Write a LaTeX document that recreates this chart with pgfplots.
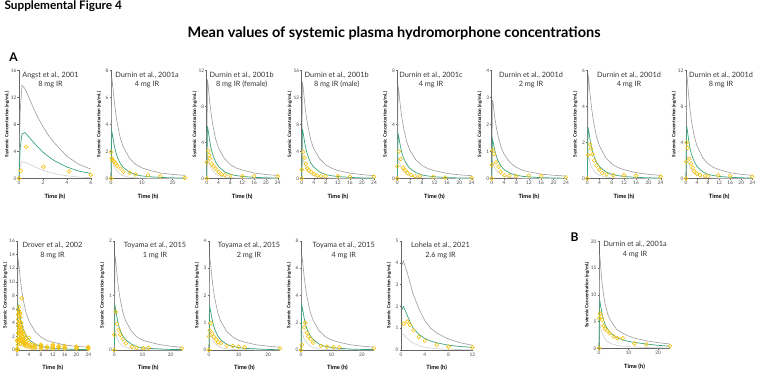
\documentclass[border=0pt]{standalone}
\usepackage{pgfplots}
\pgfplotsset{compat=1.18}
\usepackage{fontspec}
\setmainfont{Lato}
\definecolor{upc}{HTML}{9C9C9C}
\definecolor{loc}{HTML}{CFCFCF}
\definecolor{grc}{HTML}{3BA57A}
\definecolor{yc}{HTML}{F4C20D}
\pgfplotsset{
  panel/.style={
    scale only axis, anchor=south west, clip=false,
    axis lines=left, axis line style={-, black!60, line width=0.45pt},
    tick style={black!60, line width=0.35pt}, major tick length=1.5pt, tick align=outside,
    ticklabel style={font=\fontsize{4.8}{5}\selectfont, text=black!70},
    yticklabel style={inner sep=0.8pt},
    xticklabel style={inner sep=1.2pt},
    /pgf/number format/assume math mode=true,
    ymin=0, xmin=0,
    xlabel={Time (h)}, ylabel={Systemic Concentration (ng/mL)},
    every axis x label/.style={at={([yshift=-18pt]axis description cs:0.5,0)}, anchor=center, font=\bfseries\fontsize{5.8}{6}\selectfont},
    every axis y label/.style={at={([xshift=-12pt]axis description cs:0,0.5)}, rotate=90, anchor=center, font=\bfseries\fontsize{4.6}{5}\selectfont},
  },
  up/.style={upc, line width=0.6pt, no marks},
  lo/.style={loc, line width=0.6pt, no marks},
  me/.style={grc, line width=0.7pt, no marks},
  ob/.style={only marks, mark=o, mark size=1.9pt, draw=yc, mark options={line width=0.6pt}},
}
\newcommand{\ptitle}[4]{%
  \node[anchor=mid, font=\fontsize{7.3}{8}\selectfont, text=black!80] at (#1pt,#2pt) {#3};
  \node[anchor=mid, font=\fontsize{7.3}{8}\selectfont, text=black!80] at (#1pt,#2pt-9.5pt) {#4};}
\begin{document}
\begin{tikzpicture}
\useasboundingbox (0,0) rectangle (757pt,371pt);
\node[anchor=west, font=\bfseries\fontsize{11.8}{13}\selectfont] at (1pt,365pt) {Supplemental Figure 4};
\node[anchor=center, font=\bfseries\fontsize{14.5}{16}\selectfont] at (394pt,338pt) {Mean values of systemic plasma hydromorphone concentrations};
\node[anchor=center, font=\bfseries\fontsize{12}{13}\selectfont] at (13.5pt,313.5pt) {A};
\node[anchor=center, font=\bfseries\fontsize{12}{13}\selectfont] at (574.5pt,134pt) {B};

% ---------- Angst 2001
\begin{axis}[panel, at={(19pt,192.5pt)}, width=71.7pt, height=108pt, xmax=6, ymax=16, xtick={0,2,4,6}, ytick={0,4,8,12,16}]
\addplot[lo] coordinates {(0,0)(0.1,1.8)(0.25,2.5)(0.5,2.4)(1,2.0)(1.5,1.6)(2,1.2)(2.5,0.95)(3,0.7)(4,0.4)(5,0.22)(6,0.12)};
\addplot[up] coordinates {(0,0)(0.1,10)(0.25,13.8)(0.5,13.3)(1,11.3)(1.5,9.3)(2,7.7)(2.5,6.3)(3,5.2)(4,3.3)(5,2.1)(6,1.4)};
\addplot[me] coordinates {(0,0)(0.1,4.5)(0.25,6.6)(0.5,6.8)(1,5.8)(1.5,4.8)(2,3.9)(2.5,3.2)(3,2.6)(4,1.7)(5,1.1)(6,0.75)};
\addplot[ob] coordinates {(0,0)(0.15,1.15)(0.6,4.7)(2.05,1.75)(4.2,1.05)(6,0.55)};
\end{axis}
\ptitle{50.5}{296.5}{Angst et al., 2001}{8 mg IR}

% ---------- Durnin 2001a
\begin{axis}[panel, at={(111pt,192.5pt)}, width=74pt, height=108pt, xmax=24, ymax=8, xtick={0,10,20}, ytick={0,2,4,6,8}]
\addplot[lo] coordinates {(0,0)(0.25,1.5)(0.5,1.32)(1,0.93)(1.5,0.69)(2,0.53)(3,0.32)(4,0.2)(6,0.09)(8,0.05)(10,0.03)(12,0.02)(16,0.01)(20,0)(24,0)};
\addplot[up] coordinates {(0,0)(0.25,7.5)(0.5,7.05)(1,5.85)(1.5,4.88)(2,4.13)(3,3.0)(4,2.33)(6,1.5)(8,1.05)(10,0.79)(12,0.64)(16,0.41)(20,0.3)(24,0.23)};
\addplot[me] coordinates {(0,0)(0.25,3.5)(0.5,3.22)(1,2.52)(1.5,2.0)(2,1.61)(3,1.12)(4,0.81)(6,0.46)(8,0.28)(10,0.19)(12,0.14)(16,0.08)(20,0.05)(24,0.03)};
\addplot[ob] coordinates {(0,0)(0,1.95)(0.25,1.5)(0.5,1.35)(1,1.25)(1.5,1.1)(2,0.95)(3,0.75)(4,0.5)(6,0.42)(8,0.3)(12,0.25)(16,0.17)(24,0.05)};
\end{axis}
\ptitle{147}{296.5}{Durnin et al., 2001a}{4 mg IR}

% ---------- Durnin 2001b female
\begin{axis}[panel, at={(206.7pt,192.5pt)}, width=71pt, height=108pt, xmax=24, ymax=12, xtick={0,4,...,24}, ytick={0,4,8,12}]
\addplot[lo] coordinates {(0,0)(0.25,2.5)(0.5,2.2)(1,1.55)(1.5,1.15)(2,0.88)(3,0.53)(4,0.33)(6,0.15)(8,0.08)(10,0.05)(12,0.03)(16,0.02)(20,0.01)(24,0)};
\addplot[up] coordinates {(0,0)(0.25,11)(0.5,10.3)(1,8.6)(1.5,7.2)(2,6.05)(3,4.4)(4,3.4)(6,2.2)(8,1.54)(10,1.16)(12,0.94)(16,0.61)(20,0.44)(24,0.33)};
\addplot[me] coordinates {(0,0)(0.25,5.8)(0.5,5.34)(1,4.18)(1.5,3.31)(2,2.67)(3,1.86)(4,1.33)(6,0.75)(8,0.46)(10,0.32)(12,0.23)(16,0.13)(20,0.08)(24,0.05)};
\addplot[ob] coordinates {(0,0)(0,1.8)(0.5,3.1)(0.8,2.6)(1.1,2.2)(1.7,1.65)(2.3,1.35)(3,1.1)(4,0.75)(5,0.45)(6.2,0.4)(8,0.3)(12,0.25)(16,0.27)(24,0.25)};
\end{axis}
\ptitle{241.7}{296.5}{Durnin et al., 2001b}{8 mg IR (female)}

% ---------- Durnin 2001b male
\begin{axis}[panel, at={(301.7pt,192.5pt)}, width=72.3pt, height=108pt, xmax=24, ymax=16, xtick={0,4,...,24}, ytick={0,4,8,12,16}]
\addplot[lo] coordinates {(0,0)(0.25,3.2)(0.5,2.8)(1,2.0)(1.5,1.5)(2,1.1)(3,0.67)(4,0.42)(6,0.19)(8,0.1)(10,0.06)(12,0.04)(16,0.02)(20,0.01)(24,0.01)};
\addplot[up] coordinates {(0,0)(0.25,14.3)(0.5,13.4)(1,11.2)(1.5,9.3)(2,7.9)(3,5.7)(4,4.4)(6,2.9)(8,2.0)(10,1.5)(12,1.2)(16,0.79)(20,0.57)(24,0.43)};
\addplot[me] coordinates {(0,0)(0.25,7.3)(0.5,6.7)(1,5.3)(1.5,4.2)(2,3.4)(3,2.3)(4,1.7)(6,0.95)(8,0.58)(10,0.4)(12,0.29)(16,0.16)(20,0.09)(24,0.06)};
\addplot[ob] coordinates {(0,0)(0,1.3)(0.5,3.9)(0.9,3.1)(1.4,2.2)(1.9,1.5)(2.4,1.2)(3.1,1.0)(4.1,0.65)(5.2,0.4)(6.4,0.35)(7.9,0.35)(12,0.35)(16,0.25)(24,0.25)};
\end{axis}
\ptitle{336.7}{296.5}{Durnin et al., 2001b}{8 mg IR (male)}

% ---------- Durnin 2001c
\begin{axis}[panel, at={(397.3pt,192.5pt)}, width=74.4pt, height=108pt, xmax=24, ymax=8, xtick={0,4,...,24}, ytick={0,4,8}]
\addplot[lo] coordinates {(0,0)(0.25,1.5)(0.5,1.32)(1,0.93)(1.5,0.69)(2,0.53)(3,0.32)(4,0.2)(6,0.09)(8,0.05)(10,0.03)(12,0.02)(16,0.01)(20,0)(24,0)};
\addplot[up] coordinates {(0,0)(0.25,6.85)(0.5,6.44)(1,5.34)(1.5,4.45)(2,3.77)(3,2.74)(4,2.12)(6,1.37)(8,0.96)(10,0.72)(12,0.58)(16,0.38)(20,0.27)(24,0.21)};
\addplot[me] coordinates {(0,0)(0.25,3.3)(0.5,3.04)(1,2.38)(1.5,1.88)(2,1.52)(3,1.06)(4,0.76)(6,0.43)(8,0.26)(10,0.18)(12,0.13)(16,0.07)(20,0.04)(24,0.03)};
\addplot[ob] coordinates {(0,0)(0,0.9)(0.5,2.0)(1.1,1.45)(1.9,0.8)(2.6,0.6)(3.3,0.4)(4.4,0.25)(5.7,0.17)(7.3,0.17)(11.6,0.12)(15.4,0.07)(24,0.05)};
\end{axis}
\ptitle{431}{296.5}{Durnin et al., 2001c}{4 mg IR}

% ---------- Durnin 2001d 2 mg
\begin{axis}[panel, at={(491.7pt,192.5pt)}, width=74.3pt, height=108pt, xmax=24, ymax=4, xtick={0,4,...,24}, ytick={0,1,2,3,4}]
\addplot[lo] coordinates {(0,0)(0.25,0.65)(0.5,0.57)(1,0.4)(1.5,0.3)(2,0.23)(3,0.14)(4,0.08)(6,0.04)(8,0.02)(10,0.01)(12,0.01)(16,0)(20,0)(24,0)};
\addplot[up] coordinates {(0,0)(0.25,2.9)(0.5,2.73)(1,2.26)(1.5,1.89)(2,1.6)(3,1.16)(4,0.9)(6,0.58)(8,0.41)(10,0.3)(12,0.25)(16,0.16)(20,0.12)(24,0.09)};
\addplot[me] coordinates {(0,0)(0.25,1.45)(0.5,1.33)(1,1.04)(1.5,0.83)(2,0.67)(3,0.46)(4,0.33)(6,0.19)(8,0.12)(10,0.08)(12,0.06)(16,0.03)(20,0.02)(24,0.01)};
\addplot[ob] coordinates {(0,0)(0,0.5)(0.3,1.05)(0.75,0.9)(1.4,0.6)(2.2,0.43)(2.9,0.25)(4.1,0.12)(5.7,0.1)(7.9,0.09)(12,0.11)(16,0.09)(24,0.04)};
\end{axis}
\ptitle{531}{296.5}{Durnin et al., 2001d}{2 mg IR}

% ---------- Durnin 2001d 4 mg
\begin{axis}[panel, at={(587.3pt,192.5pt)}, width=73.4pt, height=108pt, xmax=24, ymax=6, xtick={0,4,...,24}, ytick={0,2,4,6}]
\addplot[lo] coordinates {(0,0)(0.25,1.3)(0.5,1.14)(1,0.81)(1.5,0.6)(2,0.46)(3,0.27)(4,0.17)(6,0.08)(8,0.04)(10,0.02)(12,0.02)(16,0.01)(20,0)(24,0)};
\addplot[up] coordinates {(0,0)(0.25,5.8)(0.5,5.45)(1,4.52)(1.5,3.77)(2,3.19)(3,2.32)(4,1.8)(6,1.16)(8,0.81)(10,0.61)(12,0.49)(16,0.32)(20,0.23)(24,0.17)};
\addplot[me] coordinates {(0,0)(0.25,2.85)(0.5,2.62)(1,2.05)(1.5,1.62)(2,1.31)(3,0.91)(4,0.66)(6,0.37)(8,0.23)(10,0.16)(12,0.11)(16,0.06)(20,0.04)(24,0.02)};
\addplot[ob] coordinates {(0,0)(0.3,1.3)(0.9,1.9)(1.2,1.65)(1.7,1.35)(2.3,1.0)(3,0.73)(3.9,0.5)(4.9,0.3)(6.3,0.22)(8.5,0.18)(12,0.18)(16,0.15)(24,0.1)};
\end{axis}
\ptitle{629}{296.5}{Durnin et al., 2001d}{4 mg IR}

% ---------- Durnin 2001d 8 mg
\begin{axis}[panel, at={(686pt,192.5pt)}, width=66.3pt, height=108pt, xmax=24, ymax=12, xtick={0,4,...,24}, ytick={0,4,8,12}]
\addplot[lo] coordinates {(0,0)(0.25,2.6)(0.5,2.29)(1,1.61)(1.5,1.2)(2,0.91)(3,0.55)(4,0.34)(6,0.16)(8,0.08)(10,0.05)(12,0.03)(16,0.02)(20,0.01)(24,0.01)};
\addplot[up] coordinates {(0,0)(0.25,11.6)(0.5,10.9)(1,9.05)(1.5,7.54)(2,6.38)(3,4.64)(4,3.6)(6,2.32)(8,1.62)(10,1.22)(12,0.99)(16,0.64)(20,0.46)(24,0.35)};
\addplot[me] coordinates {(0,0)(0.25,5.8)(0.5,5.34)(1,4.18)(1.5,3.31)(2,2.67)(3,1.86)(4,1.33)(6,0.75)(8,0.46)(10,0.32)(12,0.23)(16,0.13)(20,0.08)(24,0.05)};
\addplot[ob] coordinates {(0,0)(0,1.85)(0.25,4.0)(0.6,3.4)(1.2,2.2)(1.8,1.65)(2.4,1.2)(3,0.8)(3.9,0.55)(5.1,0.37)(6.9,0.3)(8,0.25)(11.7,0.37)(16,0.3)(24,0.2)};
\end{axis}
\ptitle{721}{296.5}{Durnin et al., 2001d}{8 mg IR}

% ---------- Drover 2002
\begin{axis}[panel, at={(17.3pt,21pt)}, width=71pt, height=109pt, xmax=24, ymax=16, xtick={0,4,...,24}, ytick={0,2,...,16}]
\addplot[lo] coordinates {(0,0)(0.25,3.0)(0.5,2.64)(1,1.86)(1.5,1.38)(2,1.05)(3,0.63)(4,0.39)(6,0.18)(8,0.09)(10,0.05)(12,0.04)(16,0.02)(20,0.01)(24,0.01)};
\addplot[up] coordinates {(0,0)(0.25,13.5)(0.5,12.7)(1,10.5)(1.5,8.8)(2,7.4)(3,5.4)(4,4.2)(6,2.7)(8,1.9)(10,1.4)(12,1.15)(16,0.74)(20,0.54)(24,0.41)};
\addplot[me] coordinates {(0,0)(0.25,6.6)(0.5,6.07)(1,4.75)(1.5,3.76)(2,3.04)(3,2.11)(4,1.52)(6,0.86)(8,0.53)(10,0.36)(12,0.26)(16,0.15)(20,0.09)(24,0.05)};
\addplot[ob] coordinates {(0,0)(0,0.2)(0,1.3)(0,1.5)(0,0.1)
(0.25,1.5)(0.25,2.5)(0.25,3.5)(0.25,4.5)(0.25,5.2)(0.25,0.8)
(0.5,2.0)(0.5,3.0)(0.5,4.0)(0.5,5.0)(0.5,5.8)(0.5,6.3)(0.5,1.2)
(0.75,2.5)(0.75,3.3)(0.75,4.2)(0.75,5.5)(0.75,1.6)
(1,1.8)(1,2.8)(1,3.6)(1,4.8)(1,5.3)(1,0.9)
(1.25,1.5)(1.25,2.2)(1.25,3.0)(1.25,4.0)
(1.5,1.2)(1.5,1.9)(1.5,2.6)(1.5,3.4)(1.5,7.6)
(2,0.8)(2,1.4)(2,2.0)(2,2.7)(2,1.1)
(2.5,0.7)(2.5,1.0)(2.5,1.5)(2.5,2.2)
(3,0.5)(3,0.9)(3,1.2)(3,1.6)
(4,0.4)(4,0.7)(4,1.0)(4,1.8)
(5,0.3)(5,0.5)(5,0.8)
(6,0.3)(6,0.5)(6,0.7)
(8,0.2)(8,0.4)(8,0.6)(8,0.8)
(10,0.3)(10,0.5)
(12,0.2)(12,0.4)(12,0.6)(12,0.8)
(14,0.3)(14,0.5)(14,0.6)
(16,0.2)(16,0.4)(16,0.6)
(20,0.2)(20,0.35)(20,0.5)
(24,0.15)(24,0.3)(24,0.45)};
\end{axis}
\ptitle{52.5}{126}{Drover et al., 2002}{8 mg IR}

% ---------- Toyama 1 mg
\begin{axis}[panel, at={(114.3pt,21pt)}, width=67.7pt, height=109pt, xmax=24, ymax=2, xtick={0,10,20}, ytick={0,1,2}]
\addplot[lo] coordinates {(0,0)(0.25,0.35)(0.5,0.31)(1,0.22)(1.5,0.16)(2,0.12)(3,0.07)(4,0.05)(6,0.02)(8,0.01)(10,0.01)(12,0)(16,0)(20,0)(24,0)};
\addplot[up] coordinates {(0,0)(0.25,1.74)(0.5,1.64)(1,1.36)(1.5,1.13)(2,0.96)(3,0.7)(4,0.54)(6,0.35)(8,0.24)(10,0.18)(12,0.15)(16,0.1)(20,0.07)(24,0.05)};
\addplot[me] coordinates {(0,0)(0.25,0.81)(0.5,0.75)(1,0.58)(1.5,0.46)(2,0.37)(3,0.26)(4,0.19)(6,0.11)(8,0.06)(10,0.04)(12,0.03)(16,0.02)(20,0.01)(24,0.01)};
\addplot[ob] coordinates {(0,0)(0,0.28)(0.5,0.7)(0.95,0.48)(1.5,0.37)(2.1,0.28)(3,0.2)(4.1,0.12)(6.2,0.06)(7.9,0.04)(10.3,0.03)(12.1,0.04)(24,0.03)};
\end{axis}
\ptitle{155}{126}{Toyama et al., 2015}{1 mg IR}

% ---------- Toyama 2 mg
\begin{axis}[panel, at={(209pt,21pt)}, width=71pt, height=109pt, xmax=24, ymax=4, xtick={0,10,20}, ytick={0,1,2,3,4}]
\addplot[lo] coordinates {(0,0)(0.25,0.7)(0.5,0.62)(1,0.43)(1.5,0.32)(2,0.25)(3,0.15)(4,0.09)(6,0.04)(8,0.02)(10,0.01)(12,0.01)(16,0)(20,0)(24,0)};
\addplot[up] coordinates {(0,0)(0.25,3.4)(0.5,3.2)(1,2.65)(1.5,2.21)(2,1.87)(3,1.36)(4,1.05)(6,0.68)(8,0.48)(10,0.36)(12,0.29)(16,0.19)(20,0.14)(24,0.1)};
\addplot[me] coordinates {(0,0)(0.25,1.6)(0.5,1.47)(1,1.15)(1.5,0.91)(2,0.74)(3,0.51)(4,0.37)(6,0.21)(8,0.13)(10,0.09)(12,0.06)(16,0.04)(20,0.02)(24,0.01)};
\addplot[ob] coordinates {(0,0)(0,0.5)(0.25,0.72)(0.6,0.98)(1.1,0.6)(1.7,0.48)(2.4,0.39)(3.1,0.28)(4,0.25)(6,0.15)(8,0.15)(10,0.12)(12,0.1)(24,0.06)};
\end{axis}
\ptitle{249}{126}{Toyama et al., 2015}{2 mg IR}

% ---------- Toyama 4 mg
\begin{axis}[panel, at={(301pt,21pt)}, width=73pt, height=109pt, xmax=24, ymax=8, xtick={0,10,20}, ytick={0,2,4,6,8}]
\addplot[lo] coordinates {(0,0)(0.25,1.4)(0.5,1.23)(1,0.87)(1.5,0.64)(2,0.49)(3,0.29)(4,0.18)(6,0.08)(8,0.04)(10,0.03)(12,0.02)(16,0.01)(20,0)(24,0)};
\addplot[up] coordinates {(0,0)(0.25,7.0)(0.5,6.58)(1,5.46)(1.5,4.55)(2,3.85)(3,2.8)(4,2.17)(6,1.4)(8,0.98)(10,0.74)(12,0.6)(16,0.39)(20,0.28)(24,0.21)};
\addplot[me] coordinates {(0,0)(0.25,3.3)(0.5,3.04)(1,2.38)(1.5,1.88)(2,1.52)(3,1.06)(4,0.76)(6,0.43)(8,0.26)(10,0.18)(12,0.13)(16,0.07)(20,0.04)(24,0.03)};
\addplot[ob] coordinates {(0,0)(0.3,0.37)(1,1.66)(1.4,2.0)(1.9,1.27)(2.4,0.98)(3.2,0.8)(4,0.54)(6.6,0.3)(8.5,0.25)(10.7,0.2)(12.6,0.2)(24,0.12)};
\end{axis}
\ptitle{343.7}{126}{Toyama et al., 2015}{4 mg IR}

% ---------- Lohela 2021
\begin{axis}[panel, at={(401pt,21pt)}, width=71.3pt, height=109pt, xmax=12, ymax=5, xtick={0,4,8,12}, ytick={0,1,2,3,4,5}]
\addplot[lo] coordinates {(0.15,0.68)(0.4,0.73)(1,0.55)(1.5,0.42)(2,0.32)(3,0.2)(4,0.13)(5,0.09)(6,0.06)(8,0.03)(10,0.02)(12,0.01)};
\addplot[up] coordinates {(0.15,3.9)(0.4,4.08)(1,3.6)(1.5,3.1)(2,2.6)(3,1.9)(4,1.35)(5,1.0)(6,0.78)(8,0.5)(10,0.33)(12,0.22)};
\addplot[me] coordinates {(0.15,1.85)(0.4,2.0)(1,1.62)(1.5,1.3)(2,1.02)(3,0.72)(4,0.53)(5,0.41)(6,0.33)(8,0.22)(10,0.16)(12,0.12)};
\addplot[ob] coordinates {(0.45,1.2)(1.07,1.3)(1.5,1.15)(2.1,0.9)(3,0.6)(4,0.43)(6,0.23)(8,0.15)(12,0.12)};
\end{axis}
\ptitle{440.5}{126}{Lohela et al., 2021}{2.6 mg IR}

% ---------- B: Durnin 2001a
\begin{axis}[panel, at={(599pt,22.7pt)}, width=71pt, height=107pt, xmax=24, ymax=20, xtick={0,10,20}, ytick={0,5,10,15,20}]
\addplot[lo] coordinates {(0,0)(0.25,4.5)(0.5,3.9)(1,3.0)(1.5,2.3)(2,1.8)(3,1.2)(4,0.9)(6,0.55)(8,0.4)(10,0.3)(12,0.25)(16,0.15)(20,0.1)(24,0.08)};
\addplot[up] coordinates {(0,0)(0.25,17.5)(0.5,15.8)(1,12.3)(1.5,10.2)(2,8.4)(3,6.3)(4,5.1)(6,3.5)(8,2.8)(10,2.3)(12,1.9)(16,1.4)(20,1.05)(24,0.8)};
\addplot[me] coordinates {(0,0)(0.25,9.0)(0.5,8.1)(1,6.5)(1.5,5.4)(2,4.5)(3,3.5)(4,2.8)(6,2.0)(8,1.55)(10,1.3)(12,1.1)(16,0.8)(20,0.55)(24,0.4)};
\addplot[ob] coordinates {(0,0)(0,5.6)(0.35,6.5)(0.7,6.0)(1.05,5.3)(1.5,4.2)(2.1,3.6)(2.7,3.3)(3.6,2.8)(5,2.2)(6.2,1.9)(8,1.9)(12,0.9)(16,0.75)(24,0.4)};
\end{axis}
\ptitle{635}{127}{Durnin et al., 2001a}{4 mg IR}
\end{tikzpicture}
\end{document}
